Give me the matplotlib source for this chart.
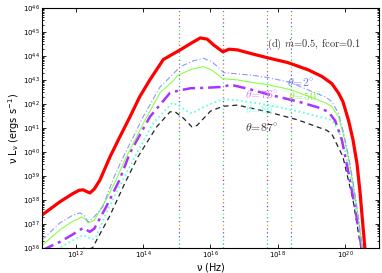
import matplotlib
matplotlib.use("Agg")
import matplotlib.pyplot as plt
import matplotlib.ticker as ticker
import numpy as np

# log10(nu), log10(nu L_nu)
red_lx = [11.0, 11.53, 11.9, 12.1, 12.22, 12.32, 12.42, 12.55, 12.72, 13.02, 13.3, 13.61, 13.9, 14.2, 14.6,
          15.1, 15.45, 15.7, 15.9, 16.1, 16.37, 16.55, 16.8, 17.2, 17.7, 18.3, 18.9, 19.3, 19.6, 19.8,
          19.93, 20.1, 20.23, 20.35, 20.44, 20.52, 20.6]
red_ly = [37.37, 37.92, 38.25, 38.4, 38.42, 38.35, 38.29, 38.45, 38.83, 39.8, 40.6, 41.46, 42.3, 43.0, 43.85,
          44.25, 44.55, 44.75, 44.7, 44.45, 44.17, 44.28, 44.25, 44.1, 43.92, 43.72, 43.42, 43.15, 42.85, 42.45,
          42.1, 41.3, 40.5, 39.5, 38.3, 37.0, 35.7]

blue_lx = [11.0, 11.53, 11.9, 12.13, 12.25, 12.37, 12.55, 12.8, 13.1, 13.37, 13.7, 14.0, 14.5, 14.86, 15.1,
           15.5, 15.8, 16.05, 16.4, 16.8, 17.2, 17.7, 18.36, 19.04, 19.4, 19.6, 19.8, 19.95, 20.1, 20.25,
           20.4, 20.52]
blue_ly = [36.33, 37.04, 37.35, 37.46, 37.35, 37.08, 37.3, 37.7, 38.83, 39.67, 40.6, 41.46, 42.7, 43.2, 43.55,
           43.8, 43.9, 43.75, 43.3, 43.25, 43.2, 43.1, 42.9, 42.5, 42.3, 42.1, 41.6, 40.8, 39.8, 38.6,
           37.2, 35.8]

green_lx = [11.0, 11.53, 11.9, 12.19, 12.28, 12.37, 12.55, 12.9, 13.2, 13.46, 14.06, 14.5, 14.86, 15.04,
            15.45, 15.8, 16.05, 16.37, 16.8, 17.2, 17.7, 18.36, 19.04, 19.4, 19.6, 19.8, 19.95, 20.1, 20.25,
            20.4, 20.52]
green_ly = [36.1, 36.75, 37.1, 37.29, 37.2, 37.04, 37.15, 38.0, 38.83, 39.67, 41.33, 42.46, 42.92, 43.2,
            43.45, 43.55, 43.4, 43.05, 43.0, 42.9, 42.8, 42.6, 42.25, 42.05, 41.9, 41.45, 40.7, 39.7, 38.5,
            37.1, 35.8]

purple_lx = [11.0, 11.53, 11.9, 12.22, 12.32, 12.42, 12.55, 12.9, 13.3, 13.61, 14.2, 14.8, 15.04, 15.4,
             15.84, 16.37, 16.6, 17.2, 17.7, 18.6, 19.2, 19.5, 19.7, 19.9, 20.1, 20.3, 20.45, 20.52]
purple_ly = [35.9, 36.25, 36.55, 36.83, 36.75, 36.67, 36.8, 37.7, 38.83, 39.96, 41.46, 42.46, 42.55, 42.65,
             42.67, 42.71, 42.8, 42.6, 42.4, 42.1, 41.85, 41.67, 41.3, 40.5, 39.1, 37.6, 36.3, 35.7]

cyan_lx = [11.0, 11.5, 11.9, 12.22, 12.35, 12.48, 12.6, 12.95, 13.4, 13.76, 14.3, 14.86, 15.04, 15.25, 15.45,
           15.7, 16.0, 16.37, 16.8, 17.7, 18.66, 19.6, 19.8, 20.0, 20.2, 20.4, 20.52]
cyan_ly = [35.5, 36.0, 36.3, 36.54, 36.45, 36.33, 36.45, 37.6, 38.83, 39.8, 41.2, 42.04, 41.95, 41.75, 41.6,
           41.8, 42.0, 42.2, 42.15, 41.96, 41.67, 41.33, 40.9, 40.0, 38.6, 36.9, 35.7]

black_lx = [11.0, 11.6, 12.13, 12.25, 12.37, 12.5, 12.65, 13.0, 13.46, 13.85, 14.4, 14.8, 14.95, 15.2, 15.45,
            15.6, 16.0, 16.37, 16.8, 17.7, 18.6, 19.45, 19.6, 19.93, 20.23, 20.44, 20.52]
black_ly = [35.1, 35.6, 35.96, 35.98, 35.95, 36.0, 36.4, 37.3, 38.7, 39.8, 41.04, 41.67, 41.67, 41.4, 41.04,
            41.1, 41.7, 41.9, 41.95, 41.67, 41.33, 40.9, 40.75, 39.8, 38.0, 36.2, 35.6]

vline_nu = [1.2e15, 2.4e16, 4.7e17, 2.4e18]
dot_colors = ["#9955ff", "#bbbb22", "#ff4444", "#4455ff", "#777777", "#44eebb", "#22bb22"]

plt.rcParams["mathtext.fontset"] = "cm"

fig = plt.figure(figsize=(3.82, 2.73), dpi=100)
ax = fig.add_axes([0.110, 0.092, 0.882, 0.879])

# multicoloured dotted vertical lines
n = len(dot_colors)
for v in vline_nu:
  for i, c in enumerate(dot_colors):
    ax.axvline(v, color=c, lw=0.9, ls=(i * 3, (1, 3 * n - 1)))

def pl(lx, ly, **kw):
  ax.plot(10 ** np.array(lx), 10 ** np.array(ly), **kw)

pl(black_lx, black_ly, color="#222222", lw=0.9, ls=(0, (4, 3)))
pl(cyan_lx, cyan_ly, color="#66ffdd", lw=1.3, ls=(0, (1, 1.5)))
pl(purple_lx, purple_ly, color="#aa33ff", lw=1.8, ls=(0, (5, 2, 1.2, 2)))
pl(green_lx, green_ly, color="#88ff44", lw=0.8, ls="-")
pl(blue_lx, blue_ly, color="#8899ff", lw=0.8, ls=(0, (5, 2, 1, 2)))
pl(red_lx, red_ly, color="#ff0000", lw=2.3, ls="-")

ax.set_xscale("log")
ax.set_yscale("log")
ax.set_xlim(1e11, 1e21)
ax.set_ylim(1e36, 1e46)

ax.set_xticks([1e12, 1e14, 1e16, 1e18, 1e20])
ax.xaxis.set_minor_locator(ticker.NullLocator())
ax.set_yticks([10.0 ** k for k in range(36, 47)])
ax.yaxis.set_minor_locator(ticker.LogLocator(base=10, subs=np.arange(2, 10), numticks=50))
ax.yaxis.set_minor_formatter(ticker.NullFormatter())

ax.tick_params(which="both", direction="in", top=True, right=True, labelsize=5, width=0.6, pad=1.5)
ax.tick_params(which="major", length=3)
ax.tick_params(which="minor", length=1.5)
for s in ax.spines.values():
  s.set_linewidth(0.8)

ax.set_xlabel(r"$\mathregular{\nu}$ (Hz)", fontsize=7, labelpad=-0.5)
ax.set_ylabel(r"$\mathregular{\nu}$ L$_\mathregular{\nu}$ (ergs s$^\mathregular{-1}$)", fontsize=7, labelpad=1)

tkw = dict(transform=ax.transAxes, fontsize=7.5, family="cmr10", va="center")
ax.text(0.668, 0.85, r"(d) $\dot{m}$=0.5, fcor=0.1", color="#333333", **tkw)
tkw["fontsize"] = 8.5
ax.text(0.727, 0.6875, r"$\theta\!=\!2^{\circ}$", color="#6677ee", **tkw)
ax.text(0.73, 0.629, r"$\theta\!=\!50^{\circ}$", color="#88ee44", **tkw)
ax.text(0.602, 0.6375, r"$\theta\!=\!76^{\circ}$", color="#cc88ff", **tkw)
ax.text(0.602, 0.575, r"$\theta\!=\!84^{\circ}$", color="#88ffee", **tkw)
ax.text(0.602, 0.50, r"$\theta\!=\!87^{\circ}$", color="#333333", **tkw)

fig.savefig("out.png", dpi=100)
